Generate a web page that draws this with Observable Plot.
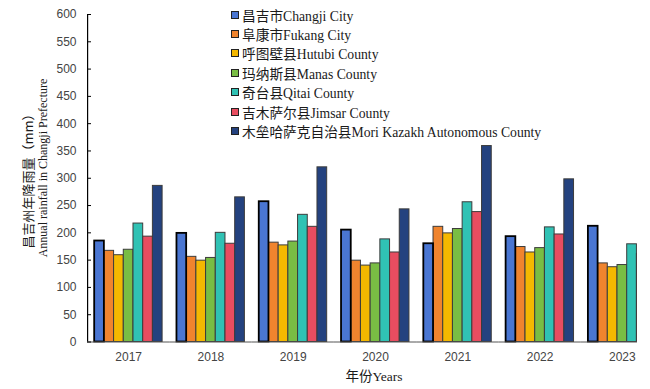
<!DOCTYPE html>
<html><head><meta charset="utf-8">
<script src="https://cdn.jsdelivr.net/npm/d3@7"></script>
<script src="https://cdn.jsdelivr.net/npm/@observablehq/plot@0.6"></script>
<style>
body{margin:0;background:#fff;}
#wrap{position:relative;width:650px;height:389px;overflow:hidden;background:#fff;}
#chart{position:absolute;left:0;top:0;}
.legend{position:absolute;left:231px;top:5px;font-family:"Liberation Serif","Noto Sans CJK SC",serif;font-size:13.7px;color:#1a1a1a;}
.legend .item{display:flex;align-items:center;white-space:nowrap;height:19.4px;}
.legend .sw{width:6px;height:6px;border:1.5px solid #222;margin-right:3px;flex:none;}
.rot{position:absolute;white-space:nowrap;transform:translate(-50%,-50%) rotate(-90deg);color:#1a1a1a;}
.xlab{position:absolute;white-space:nowrap;transform:translate(-50%,-50%);font-family:"Liberation Serif","Noto Sans CJK SC",serif;font-size:13.5px;color:#1a1a1a;}
</style></head>
<body>
<div id="wrap">
  <div id="chart"></div>
  <div class="legend" id="legend"></div>
  <div class="rot" style="left:27px;top:178px;font-family:'Noto Sans CJK SC',sans-serif;font-size:13px;">昌吉州年降雨量（mm）</div>
  <div class="rot" style="left:43px;top:168px;font-family:'Liberation Serif',serif;font-size:12px;">Annual rainfall in Changji Prefecture</div>
  <div class="xlab" style="left:374px;top:375px;">年份Years</div>
</div>
<script>
const years = [2017, 2018, 2019, 2020, 2021, 2022, 2023];
const counties = ["昌吉市Changji City", "阜康市Fukang City", "呼图壁县Hutubi County", "玛纳斯县Manas County", "奇台县Qitai County", "吉木萨尔县Jimsar County", "木垒哈萨克自治县Mori Kazakh Autonomous County"];
const colors = ["#4a76d2", "#f0842e", "#f4b800", "#79bd44", "#30c2b4", "#e84d60", "#24427f"];
const changji = [185, 199, 257, 205, 180, 193, 212];
const fukang  = [167, 156, 182, 149, 211, 174, 144];
const hutubi  = [159, 149, 177, 140, 199, 164, 137];
const manas   = [169, 154, 184, 144, 207, 172, 141];
const qitai   = [217, 200, 233, 188, 256, 210, 179];
const jimsar  = [193, 180, 211, 164, 238, 197, 161];
const mori    = [286, 265, 320, 243, 359, 298, null];
const yTicks = [0, 50, 100, 150, 200, 250, 300, 350, 400, 450, 500, 550, 600];

const series = [changji, fukang, hutubi, manas, qitai, jimsar, mori];
const rows = years.flatMap((yr, i) => counties.map((c, j) => ({year: yr, county: c, value: series[j][i]})))
  .filter(d => d.value != null);

const fxRange = [87, 663];
const tickLen = 4;
const bandW = (fxRange[1] - fxRange[0]) / years.length;

const chart = Plot.plot({
  width: 637, height: 389,
  marginTop: 14, marginBottom: 47.5, marginLeft: 87, marginRight: 0,
  style: {fontFamily: "'Liberation Sans', Arial, sans-serif", fontSize: "12px", color: "#444", background: "transparent"},
  fx: {domain: years, range: fxRange, padding: 0, round: false, label: null},
  x: {domain: counties, paddingInner: 0, paddingOuter: 0.74, round: false, axis: null},
  y: {domain: [0, 600], label: null},
  color: {domain: counties, range: colors},
  marks: [
    Plot.barY(rows.filter(d => d.county !== counties[0]), {fx: "year", x: "county", y: "value", fill: "county", stroke: "#3c3c3c", strokeWidth: 1}),
    Plot.barY(rows.filter(d => d.county === counties[0]), {fx: "year", x: "county", y: "value", fill: "county", stroke: "#000", strokeWidth: 1.8}),
    Plot.ruleY([0], {stroke: "#555"}),
    Plot.rect([0], {fx: () => years[0], y1: () => yTicks[0], y2: () => yTicks[yTicks.length - 1], insetRight: bandW - 1.2, fill: "#000"}),
    Plot.tickY(yTicks, {y: d => d, fx: () => years[0], insetRight: bandW - tickLen, stroke: "#000"}),
    Plot.axisY(yTicks, {tickSize: 0, tickPadding: 11, label: null}),
    Plot.axisFx({anchor: "bottom", tickSize: 0, tickPadding: 10, label: null, tickFormat: d => String(d)})
  ]
});
document.getElementById("chart").appendChild(chart);

const lg = document.getElementById("legend");
counties.forEach((c, i) => {
  const it = document.createElement("div");
  it.className = "item";
  it.innerHTML = `<span class="sw" style="background:${colors[i]}"></span><span>${c}</span>`;
  lg.appendChild(it);
});
</script>
</body></html>
